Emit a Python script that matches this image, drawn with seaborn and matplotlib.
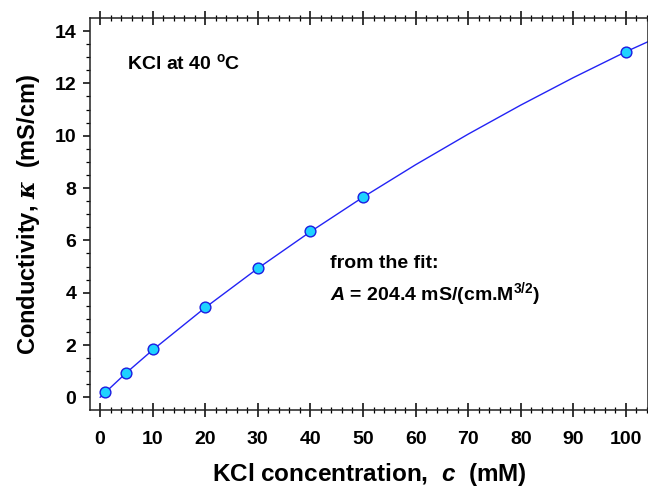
import matplotlib
matplotlib.use("Agg")
import matplotlib.pyplot as plt
import matplotlib.ticker as ticker
import pandas as pd
import seaborn as sns

# measured points
conc_mM = [1, 5, 10, 20, 30, 40, 50, 100]
kappa_mS = [0.21, 0.94, 1.83, 3.45, 4.93, 6.35, 7.65, 13.21]

# fitted curve
fit_conc = [0, 5, 10, 20, 30, 40, 50, 60, 70, 80, 90, 100, 104.5]
fit_kappa = [0.0, 0.94, 1.81, 3.43, 4.93, 6.33, 7.65, 8.89, 10.06, 11.17, 12.22, 13.21, 13.62]

sns.set_style("ticks")
plt.rcParams["font.family"] = ["Liberation Sans", "DejaVu Sans"]
plt.rcParams["font.weight"] = "bold"
plt.rcParams["text.color"] = "black"
plt.rcParams["axes.labelcolor"] = "black"
plt.rcParams["xtick.color"] = "black"
plt.rcParams["ytick.color"] = "black"
plt.rcParams["mathtext.fontset"] = "custom"
plt.rcParams["mathtext.rm"] = "Liberation Sans:bold"
plt.rcParams["mathtext.bf"] = "Liberation Sans:bold"
plt.rcParams["mathtext.it"] = "Liberation Sans:italic:bold"
plt.rcParams["mathtext.sf"] = "DejaVu Serif:italic"

df_pts = pd.DataFrame({"c": conc_mM, "kappa": kappa_mS})
df_fit = pd.DataFrame({"c": fit_conc, "kappa": fit_kappa})

fig = plt.figure(figsize=(6.48, 4.93), dpi=100)
ax = fig.add_axes([0.139, 0.168, 0.861, 0.795])

sns.lineplot(data=df_fit, x="c", y="kappa", ax=ax, color="#2323f5", linewidth=1.0)
sns.scatterplot(data=df_pts, x="c", y="kappa", ax=ax, color="#1ed2ff",
                edgecolor="#1c1ce0", linewidth=1.0, s=60, zorder=3)

ax.set_xlim(-1.9, 104.2)
ax.set_ylim(-0.49, 14.49)
ax.xaxis.set_major_locator(ticker.MultipleLocator(10))
ax.xaxis.set_minor_locator(ticker.MultipleLocator(2))
ax.yaxis.set_major_locator(ticker.MultipleLocator(2))
ax.yaxis.set_minor_locator(ticker.MultipleLocator(0.5))

ax.tick_params(axis="x", which="major", direction="inout", top=True, length=10, width=1.1, labelsize=14, pad=10)
ax.tick_params(axis="x", which="minor", direction="inout", top=True, length=4.5, width=0.9)
ax.tick_params(axis="y", which="major", direction="out", length=5, width=1.1, labelsize=14, pad=5)
ax.tick_params(axis="y", which="minor", direction="out", length=2.8, width=0.9)
for lbl in ax.get_xticklabels() + ax.get_yticklabels():
    lbl.set_fontweight("bold")
for sp in ax.spines.values():
    sp.set_linewidth(1.1)
    sp.set_color("#222222")

ax.set_xlabel(r"KCl concentration,  $c$  (mM)", fontsize=17.5, fontweight="bold", labelpad=9)
ax.set_ylabel(r"Conductivity, $\mathsf{\kappa}$  (mS/cm)", fontsize=17, fontweight="bold", labelpad=9)

ax.text(5.2, 12.55, r"KCl at 40 $^{\mathbf{o}}$C", fontsize=14, fontweight="bold")
ax.text(43.7, 4.94, "from the fit:", fontsize=14, fontweight="bold")
ax.text(43.7, 3.72, r"$A$ = 204.4 mS/(cm.M$^{3/2}$)", fontsize=14, fontweight="bold")

fig.savefig("out.png", dpi=100)
